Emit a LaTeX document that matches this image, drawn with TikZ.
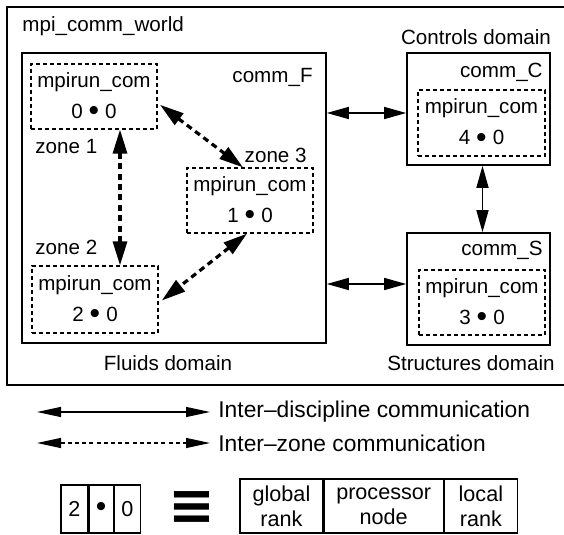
\documentclass[tikz,border=0pt]{standalone}
\usepackage{fontspec}
\setmainfont{Liberation Sans}
\newfontfamily\symfont{DejaVu Sans}
\usetikzlibrary{arrows.meta,positioning,fit}

% processor node mark
\newcommand\pdot{\raisebox{-1.4pt}{\fontsize{15}{15}\selectfont •}}
\newcommand\rankpair[2]{#1\hspace{3pt}\pdot\hspace{3pt}#2}

\tikzset{
  dombox/.style={draw, line width=0.8pt, inner sep=0pt},
  combox/.style={draw, line width=0.6pt, dash pattern=on 2pt off 1.5pt, inner sep=0pt,
    minimum width=63pt, minimum height=32.5pt,
    align=center, font=\fontsize{10.3}{15.5}\selectfont},
  lbl/.style={inner sep=0pt, font=\fontsize{10.3}{12}\selectfont},
  keylbl/.style={inner sep=0pt, font=\fontsize{11.4}{13}\selectfont},
  cell/.style={draw, line width=0.6pt, inner sep=0pt, align=center,
    font=\fontsize{10.8}{12.5}\selectfont},
  disc/.style={{Triangle[length=11pt,width=6pt]}-{Triangle[length=11pt,width=6pt]}, line width=0.7pt},
  zonelink/.style={{Triangle[length=12pt,width=7pt]}-{Triangle[length=12pt,width=7pt]},
    line width=1.6pt, dash pattern=on 3pt off 2.2pt},
  keyarrow/.style={{Triangle[length=12pt,width=5pt]}-{Triangle[length=12pt,width=5pt]}, line width=0.6pt}
}

\begin{document}
\begin{tikzpicture}[x=0.5pt,y=-0.5pt]
  \def\keyA{412};
  \def\keyB{443};
  \useasboundingbox (0,0) rectangle (564,535);
  % world communicator
  \node[dombox, fit={(7,7) (566,385)}] (world) {};
  \node[lbl, anchor=west] (worldlbl) at (22,26) {mpi\_comm\_world};
  %
  % fluids domain and its zones
  \node[dombox, fit={(22,53) (326,343)}] (fluids) {};
  \node[lbl, anchor=east] (commF) at (313,77) {comm\_F};
  \node[lbl] (fluidslbl) at (168,363) {Fluids domain};
  \node[combox] (zone1) at (94,96.5) {mpirun\_com\\\rankpair{0}{0}};
  \node[lbl, anchor=west] (zone1lbl) at (35,147) {zone 1};
  \node[combox] (zone3) at (250,200.5) {mpirun\_com\\\rankpair{1}{0}};
  \node[lbl, anchor=east] (zone3lbl) at (307,155) {zone 3};
  \node[combox, minimum height=33.5pt] (zone2) at (95,299.5) {mpirun\_com\\\rankpair{2}{0}};
  \node[lbl, anchor=west] (zone2lbl) at (35,247) {zone 2};
  %
  % controls domain
  \node[dombox, fit={(407,53) (550,165)}] (ctrl) {};
  \node[lbl] (ctrllbl) at (476,37) {Controls domain};
  \node[lbl, anchor=east] (commC) at (543,72) {comm\_C};
  \node[combox, minimum width=63.5pt, minimum height=33pt] (ctrlcom) at (481.5,123) {mpirun\_com\\\rankpair{4}{0}};
  %
  % structures domain
  \node[dombox, fit={(407,233) (550,345)}] (struct) {};
  \node[lbl] (structlbl) at (471,363) {Structures domain};
  \node[lbl, anchor=east] (commS) at (543,250) {comm\_S};
  \node[combox] (structcom) at (482,302.5) {mpirun\_com\\\rankpair{3}{0}};
  %
  % inter-discipline links
  \coordinate (fc) at (0,113);
  \coordinate (fs) at (0,284);
  \draw[disc] (fluids.east |- fc) -- (ctrl.west |- fc);
  \draw[disc] (fluids.east |- fs) -- (struct.west |- fs);
  \draw[disc] ([xshift=2pt]ctrl.south) -- ([xshift=2pt]struct.north);
  % inter-zone links
  \draw[zonelink] ([xshift=13pt]zone1.south) -- ([xshift=12.5pt]zone2.north);
  \draw[zonelink, shorten <=1.5pt] ([yshift=-3.25pt]zone1.east) -- ([xshift=-3.5pt]zone3.north);
  \draw[zonelink, shorten >=2pt] ([xshift=-1.5pt]zone3.south) -- ([yshift=-1.75pt]zone2.east);
  %
  % legend
  \node[keylbl, anchor=west] (keydisc) at (218,\keyA) {Inter–discipline communication};
  \node[keylbl, anchor=west] (keyzone) at (218,\keyB) {Inter–zone communication};
  \coordinate (kd) at (37,\keyA);
  \coordinate (kz) at (37,\keyB);
  \draw[keyarrow] (kd) -- ([xshift=-4pt]keydisc.west);
  \draw[keyarrow, dash pattern=on 2pt off 1.6pt] (kz) -- ([xshift=-4pt]keyzone.west);
  %
  \node[cell, minimum width=13.5pt, minimum height=24pt] (kg) at (74.5,509) {2};
  \node[cell, minimum width=12pt, minimum height=24pt, right=0pt of kg] (kp) {\pdot};
  \node[cell, minimum width=13pt, minimum height=24pt, right=0pt of kp] (kl) {0};
  \node[inner sep=0pt, font=\symfont\bfseries\fontsize{28}{28}\selectfont] (equiv) at (191.5,508) {≡};
  \node[cell, minimum width=41.5pt, minimum height=27pt] (kglob) at (281.5,506) {global\\rank};
  \node[cell, minimum width=59.5pt, minimum height=27pt, right=0pt of kglob] (kproc) {processor\\node};
  \node[cell, minimum width=36.5pt, minimum height=27pt, right=0pt of kproc] (kloc) {local\\rank};
\end{tikzpicture}
\end{document}
